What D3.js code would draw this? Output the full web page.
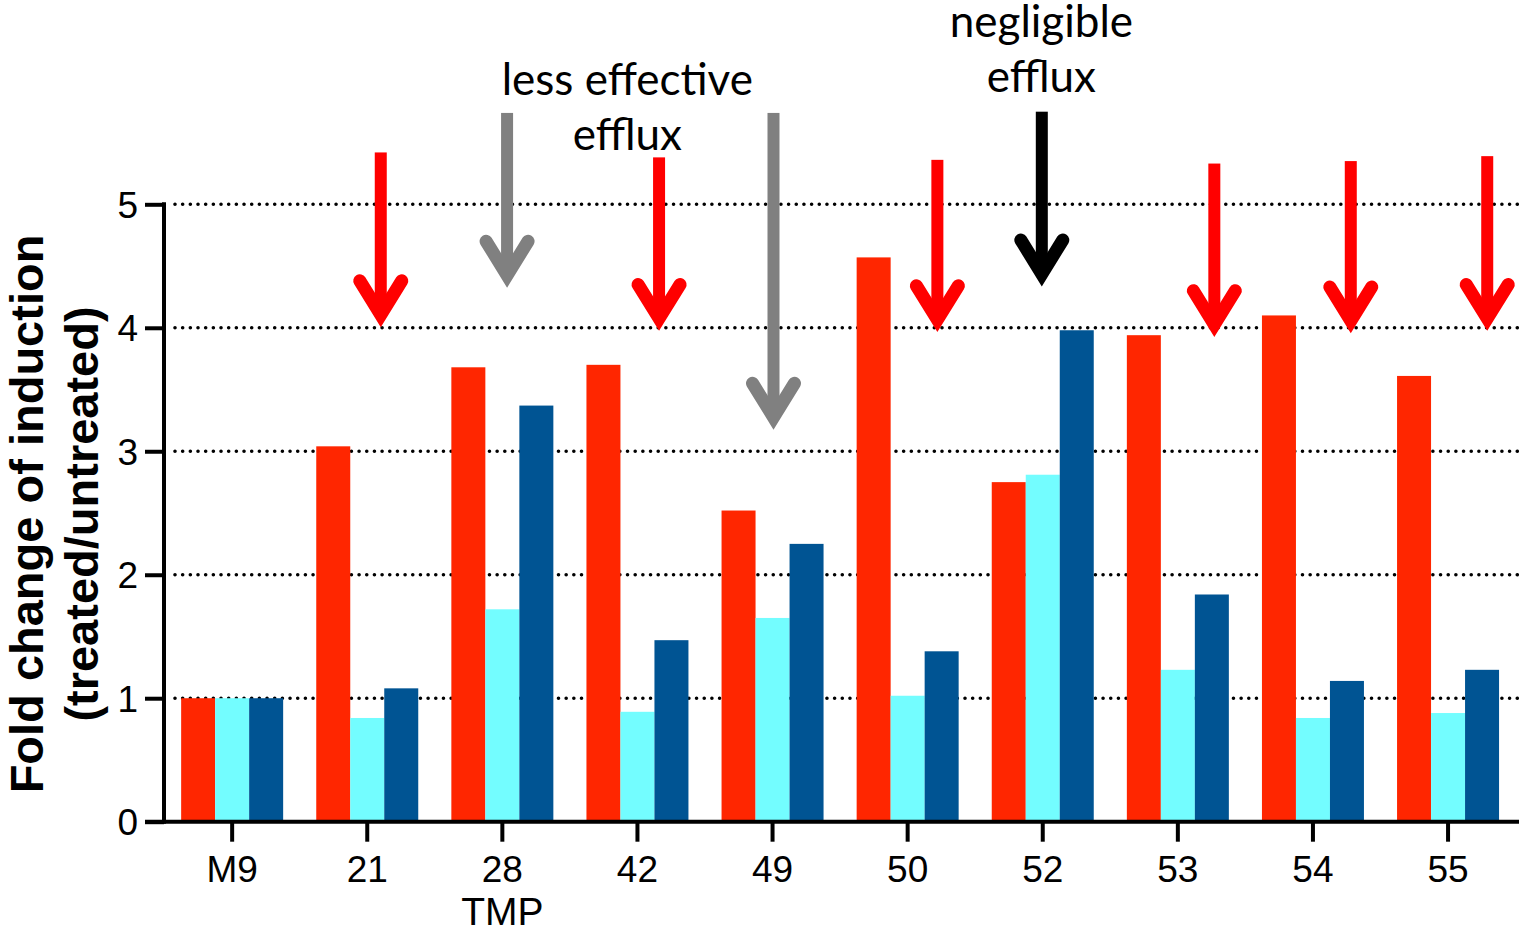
<!DOCTYPE html>
<html>
<head>
<meta charset="utf-8">
<script src="https://cdn.jsdelivr.net/npm/d3@7"></script>
<style>
  html, body { margin: 0; padding: 0; background: #fff; }
  svg { display: block; }
</style>
</head>
<body>
<svg id="chart" width="1519" height="932"></svg>
<script>
// ---- data ----
const categories = ["M9", "21", "28", "42", "49", "50", "52", "53", "54", "55"];
const seriesNames = ["s1", "s2", "s3"];
const seriesRed  = [1.00, 3.04, 3.68, 3.70, 2.52, 4.57, 2.75, 3.94, 4.10, 3.61];
const seriesCyan = [1.00, 0.84, 1.72, 0.89, 1.65, 1.02, 2.81, 1.23, 0.84, 0.88];
const seriesBlue = [1.00, 1.08, 3.37, 1.47, 2.25, 1.38, 3.98, 1.84, 1.14, 1.23];
const yTicks = [0, 1, 2, 3, 4, 5];
const yTitle = ["Fold change of induction", "(treated/untreated)"];
const xTitle = "TMP";

// annotation arrows: category, horizontal offset (fraction of step), top value, tip value, kind
const arrowCats    = ["21", "28", "42", "49", "50", "52", "53", "54", "55"];
const arrowOffsets = [0.10, 0.035, 0.16, 0.007, 0.22, -0.007, 0.27, 0.28, 0.29];
const arrowTops    = [5.42, 5.74, 5.38, 5.74, 5.36, 5.75, 5.33, 5.35, 5.39];
const arrowTips    = [4.00, 4.32, 3.97, 3.17, 3.96, 4.33, 3.92, 3.95, 3.97];
const arrowKinds   = ["red", "gray", "red", "gray", "red", "black", "red", "red", "red"];

const noteLessLines = ["less effective", "efflux"];
const noteNegLines  = ["negligible", "efflux"];

// ---- styles ----
const colors = { s1: "#FF2600", s2: "#73FDFF", s3: "#005493" };
const arrowColors = { red: "#FF0000", gray: "#808080", black: "#000000" };

const svg = d3.select("#chart");

const y = d3.scaleLinear().domain([0, 5]).range([821.7, 204.3]);
const x = d3.scaleBand().domain(categories).range([164.6, 1515.6])
  .paddingInner(0.245).paddingOuter(0.1225);
const xs = d3.scaleBand().domain(seriesNames).range([0, x.bandwidth()]);
const step = x.step();

const values = { s1: seriesRed, s2: seriesCyan, s3: seriesBlue };

// gridlines (behind bars)
const gridG = svg.append("g");
gridG.selectAll("line").data(yTicks.filter(d => d > 0)).join("line")
  .attr("x1", 175).attr("x2", 1519)
  .attr("y1", d => y(d)).attr("y2", d => y(d))
  .attr("stroke", "#000").attr("stroke-width", 3.6)
  .attr("stroke-linecap", "round")
  .attr("stroke-dasharray", "0 7.67");

// bars
const barG = svg.append("g");
categories.forEach((c, i) => {
  seriesNames.forEach(s => {
    const v = values[s][i];
    barG.append("rect")
      .attr("x", x(c) + xs(s))
      .attr("width", xs.bandwidth())
      .attr("y", y(v))
      .attr("height", y(0) - y(v))
      .attr("fill", colors[s]);
  });
});

// y axis
const yAxis = svg.append("g").attr("transform", "translate(164,0)")
  .call(d3.axisLeft(y).tickValues(yTicks).tickFormat(d3.format("d"))
    .tickSize(19).tickSizeOuter(0).tickPadding(7));
yAxis.select(".domain").remove();
yAxis.selectAll(".tick line").attr("stroke", "#000").attr("stroke-width", 4);
yAxis.selectAll(".tick text")
  .attr("font-family", "'Liberation Sans', Arial, sans-serif")
  .attr("font-size", 37).attr("fill", "#000").attr("dy", "0.35em");
svg.append("line").attr("x1", 164).attr("x2", 164)
  .attr("y1", y(5) - 2).attr("y2", y(0) + 2)
  .attr("stroke", "#000").attr("stroke-width", 4);

// x axis
const xAxis = svg.append("g").attr("transform", `translate(0,${y(0)})`)
  .call(d3.axisBottom(x).tickSize(20).tickSizeOuter(0).tickPadding(14));
xAxis.select(".domain").remove();
xAxis.selectAll(".tick line").attr("stroke", "#000").attr("stroke-width", 4);
xAxis.selectAll(".tick text")
  .attr("font-family", "'Liberation Sans', Arial, sans-serif")
  .attr("font-size", 37).attr("fill", "#000");
svg.append("line").attr("x1", 145).attr("x2", 1519)
  .attr("y1", y(0)).attr("y2", y(0))
  .attr("stroke", "#000").attr("stroke-width", 4);

// x title
svg.append("text")
  .attr("x", x("28") + x.bandwidth() / 2).attr("y", 925)
  .attr("text-anchor", "middle")
  .attr("font-family", "'Liberation Sans', Arial, sans-serif")
  .attr("font-size", 39).attr("fill", "#000")
  .text(xTitle);

// y title
const yt = svg.append("text")
  .attr("transform", `translate(0,${(y(0) + y(5)) / 2 + 1}) rotate(-90)`)
  .attr("text-anchor", "middle")
  .attr("font-family", "'Liberation Sans', Arial, sans-serif")
  .attr("font-weight", "bold")
  .attr("font-size", 47).attr("fill", "#000");
yt.append("tspan").attr("x", 0).attr("y", 43).text(yTitle[0]);
yt.append("tspan").attr("x", 0).attr("y", 98).text(yTitle[1]);

// arrows
const arrowG = svg.append("g");
arrowCats.forEach((c, i) => {
  const ax = x(c) + x.bandwidth() / 2 + arrowOffsets[i] * step;
  const top = y(arrowTops[i]);
  const tip = y(arrowTips[i]);
  const col = arrowColors[arrowKinds[i]];
  arrowG.append("rect")
    .attr("x", ax - 6).attr("width", 12)
    .attr("y", top).attr("height", tip - 14 - top)
    .attr("fill", col);
  arrowG.append("polyline")
    .attr("points", `${ax - 21},${tip - 47} ${ax},${tip - 13} ${ax + 21},${tip - 47}`)
    .attr("fill", "none").attr("stroke", col).attr("stroke-width", 13)
    .attr("stroke-linecap", "round").attr("stroke-linejoin", "miter");
});

// annotation texts
function note(lines, cx, baseline) {
  const t = svg.append("text")
    .attr("text-anchor", "middle")
    .attr("font-family", "Lato, 'Open Sans', sans-serif")
    .attr("font-size", 44).attr("fill", "#000");
  lines.forEach((l, k) => {
    t.append("tspan").attr("x", cx).attr("y", baseline + k * 55).text(l);
  });
}
note(noteLessLines, x("42") + x.bandwidth() / 2 - 0.075 * step, 95);
note(noteNegLines, x("52") + x.bandwidth() / 2 - 0.01 * step, 37);
</script>
</body>
</html>
